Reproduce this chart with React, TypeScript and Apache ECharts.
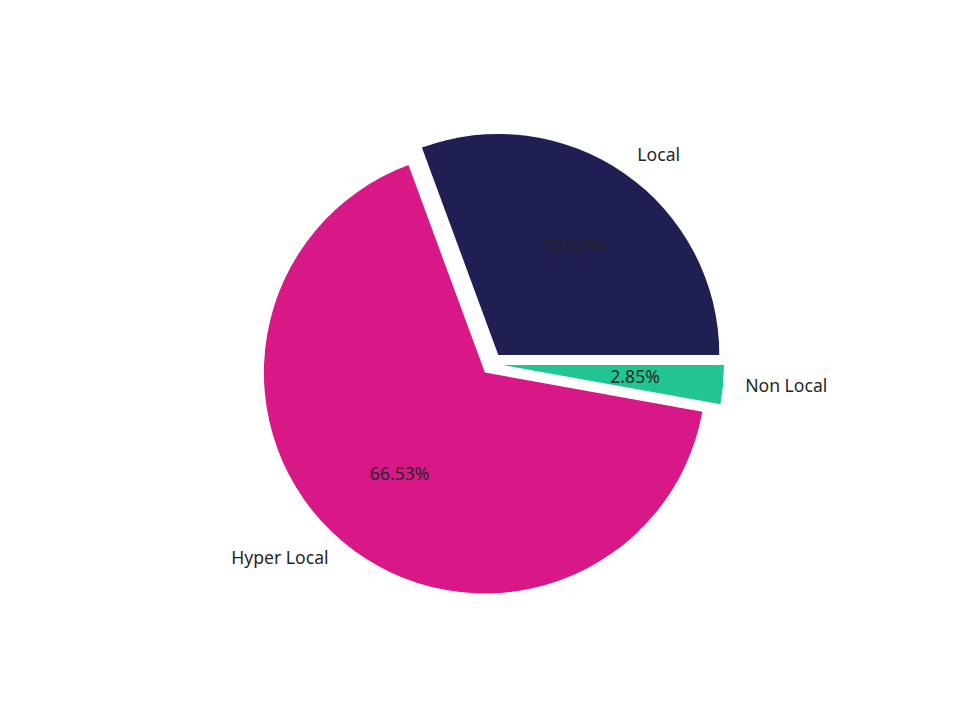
import React, { useEffect, useRef } from 'react';
import * as echarts from 'echarts';

const categories = ['Local', 'Hyper Local', 'Non Local'];
const values = [30.62, 66.53, 2.85];
const explode = [0.05, 0.05, 0.05];
const colors = ['#1f1f53', '#d81886', '#23c493'];

const App: React.FC = () => {
  const chartRef = useRef<HTMLDivElement>(null);

  useEffect(() => {
    document.body.style.margin = '0';
    if (!chartRef.current) return;
    const chart = echarts.init(chartRef.current, undefined, { renderer: 'svg' });

    const R = 221;
    const cx = 492;
    const cy = 364;
    const total = values.reduce((a, b) => a + b, 0);

    // mid angle of each wedge, counter-clockwise from 3 o'clock
    let acc = 0;
    const mids = values.map((v) => {
      const span = (v / total) * 360;
      const mid = acc + span / 2;
      acc += span;
      return (mid * Math.PI) / 180;
    });
    const centers = mids.map((m, i) => [
      cx + explode[i] * R * Math.cos(m),
      cy - explode[i] * R * Math.sin(m),
    ]);

    const textStyle = { fontFamily: 'Noto Sans', fontSize: 17.6, color: '#262626' };

    const sliceSeries = categories.map((_, k) => ({
      type: 'pie',
      name: categories[k],
      radius: R,
      center: centers[k],
      startAngle: 0,
      clockwise: false,
      silent: true,
      avoidLabelOverlap: false,
      itemStyle: { borderWidth: 0 },
      labelLine: { show: false },
      emphasis: { disabled: true },
      labelLayout: () => {
        const m = mids[k];
        return {
          x: centers[k][0] + 0.6 * R * Math.cos(m),
          y: centers[k][1] - 0.6 * R * Math.sin(m) - 1,
          align: 'center',
          verticalAlign: 'middle',
        };
      },
      data: categories.map((n, i) => ({
        name: n,
        value: values[i],
        itemStyle: { color: i === k ? colors[i] : 'transparent' },
        label: {
          show: i === k,
          position: 'inside',
          formatter: ((values[i] / total) * 100).toFixed(2) + '%',
          ...textStyle,
        },
      })),
    }));

    const nameSeries = {
      type: 'pie',
      radius: R,
      center: [cx, cy],
      startAngle: 0,
      clockwise: false,
      silent: true,
      avoidLabelOverlap: false,
      itemStyle: { color: 'transparent', borderWidth: 0 },
      labelLine: { show: false },
      emphasis: { disabled: true },
      label: { show: true, position: 'inside', formatter: '{b}', ...textStyle },
      labelLayout: (p: any) => {
        const i = p.dataIndex;
        const m = mids[i];
        const c = Math.cos(m);
        return {
          x: centers[i][0] + 1.1 * R * c,
          y: centers[i][1] - 1.1 * R * Math.sin(m) - 2,
          align: c >= 0 ? 'left' : 'right',
          verticalAlign: 'middle',
        };
      },
      data: categories.map((n, i) => ({ name: n, value: values[i] })),
      z: 5,
    };

    chart.setOption({
      animation: false,
      backgroundColor: '#ffffff',
      series: [...sliceSeries, nameSeries],
    } as any);

    return () => {
      chart.dispose();
    };
  }, []);

  return <div ref={chartRef} style={{ width: '960px', height: '720px' }}></div>;
};

export default App;
